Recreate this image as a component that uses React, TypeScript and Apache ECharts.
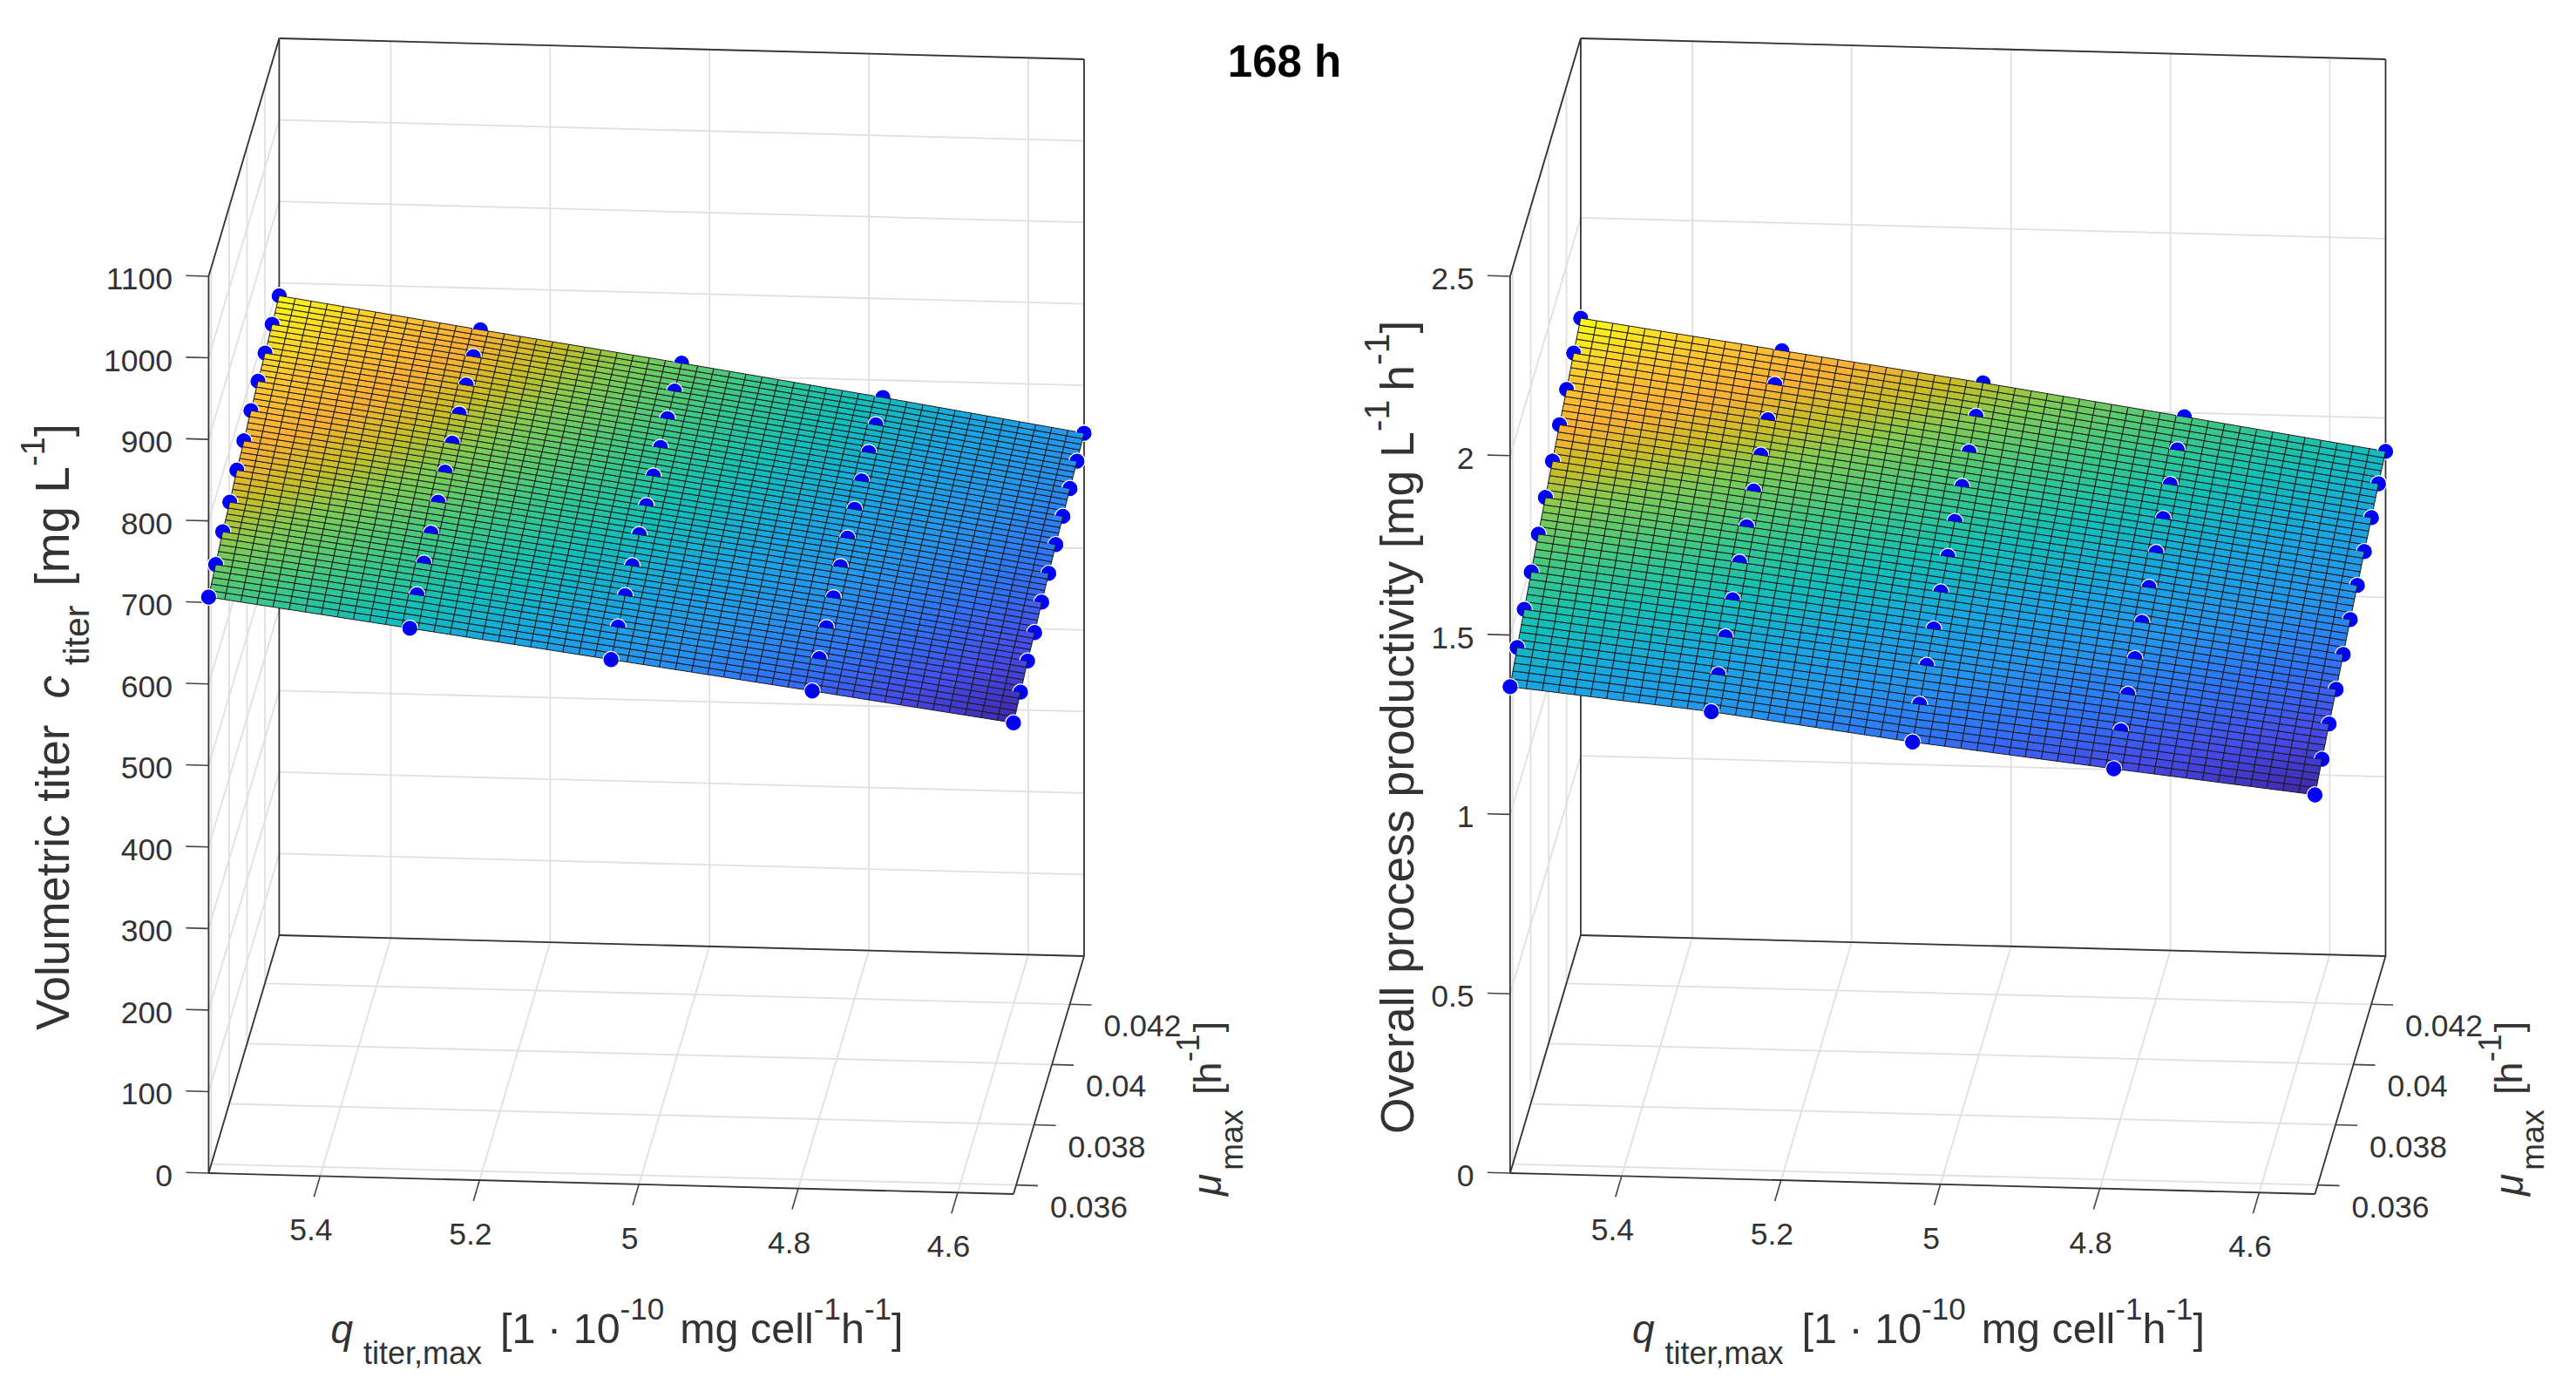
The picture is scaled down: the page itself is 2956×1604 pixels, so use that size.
import React, { useEffect, useRef } from "react";
import * as echarts from "echarts";

// ---------- data ----------
const Q_VALUES = [5.54, 5.2875, 5.035, 4.7825, 4.53];
const MU_VALUES = [0.0357, 0.03649, 0.03728, 0.03807, 0.03886, 0.03965, 0.04044, 0.04123, 0.04202, 0.04281, 0.0436];
// one row per q value, one column per mu value
const TITER_VALUES = [
  [706.6, 717.3, 728.4, 735.5, 745.6, 752.3, 760.2, 767.1, 772.4, 778.5, 784.3],
  [674.8, 686.7, 696.3, 703.8, 712.8, 720.3, 726.8, 733.2, 739.6, 745.4, 749.0],
  [642.8, 653.5, 662.9, 670.3, 679.3, 685.7, 692.9, 698.7, 704.8, 709.4, 714.4],
  [610.7, 621.1, 630.0, 637.5, 646.5, 652.3, 658.4, 664.0, 669.8, 674.5, 678.8],
  [578.0, 586.5, 595.5, 601.2, 609.4, 615.5, 621.6, 627.0, 632.0, 636.3, 641.4],
];
const PRODUCTIVITY_VALUES = [
  [1.356, 1.399, 1.439, 1.477, 1.516, 1.552, 1.587, 1.622, 1.654, 1.689, 1.72],
  [1.301, 1.338, 1.377, 1.414, 1.452, 1.485, 1.518, 1.552, 1.584, 1.616, 1.644],
  [1.231, 1.27, 1.312, 1.347, 1.384, 1.417, 1.448, 1.479, 1.509, 1.542, 1.569],
  [1.171, 1.211, 1.246, 1.279, 1.314, 1.345, 1.376, 1.404, 1.433, 1.463, 1.489],
  [1.113, 1.146, 1.178, 1.208, 1.239, 1.27, 1.299, 1.327, 1.355, 1.383, 1.407],
];
const Q_TICKS = [5.4, 5.2, 5, 4.8, 4.6];
const Q_TICK_LABELS = ["5.4", "5.2", "5", "4.8", "4.6"];
const MU_TICKS = [0.036, 0.038, 0.04, 0.042];
const MU_TICK_LABELS = ["0.036", "0.038", "0.04", "0.042"];
const TITER_TICKS = [0, 100, 200, 300, 400, 500, 600, 700, 800, 900, 1000, 1100];
const TITER_TICK_LABELS = ["0", "100", "200", "300", "400", "500", "600", "700", "800", "900", "1000", "1100"];
const PROD_TICKS = [0, 0.5, 1, 1.5, 2, 2.5];
const PROD_TICK_LABELS = ["0", "0.5", "1", "1.5", "2", "2.5"];
const TITLE_TEXT = "168 h";

// ---------- styling / view ----------
const FONT = '"Liberation Sans", Arial, sans-serif';
const TEXT = "#333333";
const MESH_CELLS = 50;
const PARULA: [number, number, number, number][] = [
  [0, 62, 38, 168], [0.1, 70, 75, 235], [0.2, 48, 115, 250], [0.3, 38, 148, 237],
  [0.4, 25, 165, 225], [0.5, 18, 190, 185], [0.6, 61, 199, 135], [0.7, 128, 203, 84],
  [0.76, 199, 190, 40], [0.83, 250, 175, 55], [0.9, 253, 195, 50], [1, 249, 251, 21],
];
function parula(t: number) {
  const v = Math.max(0, Math.min(1, t));
  for (let i = 1; i < PARULA.length; i++) {
    if (v <= PARULA[i][0]) {
      const a = PARULA[i - 1], b = PARULA[i];
      const f = (v - a[0]) / (b[0] - a[0]);
      return `rgb(${Math.round(a[1] + (b[1] - a[1]) * f)},${Math.round(a[2] + (b[2] - a[2]) * f)},${Math.round(a[3] + (b[3] - a[3]) * f)})`;
    }
  }
  return "rgb(249,251,21)";
}

const ORIGIN = { x: 239.4, y: 1346 };
const V_Q = { x: 923.6, y: 24 };
const V_MU = { x: 81, y: -273 };
const V_Z = -1029;
const qL = Q_VALUES[0], qR = Q_VALUES[Q_VALUES.length - 1];
const mu0 = MU_VALUES[0], mu1 = MU_VALUES[MU_VALUES.length - 1];

function makeProject(dx: number, zMax: number) {
  return (q: number, mu: number, z: number): [number, number] => {
    const u = (qL - q) / (qL - qR);
    const v = (mu - mu0) / (mu1 - mu0);
    return [
      ORIGIN.x + dx + u * V_Q.x + v * V_MU.x,
      ORIGIN.y + u * V_Q.y + v * V_MU.y + (z / zMax) * V_Z,
    ];
  };
}

function surfaceAt(table: number[][], a: number, b: number) {
  const ca = a * (table.length - 1), cb = b * (table[0].length - 1);
  const i = Math.min(Math.floor(ca), table.length - 2), j = Math.min(Math.floor(cb), table[0].length - 2);
  const fa = ca - i, fb = cb - j;
  return (table[i][j] * (1 - fb) + table[i][j + 1] * fb) * (1 - fa) + (table[i + 1][j] * (1 - fb) + table[i + 1][j + 1] * fb) * fa;
}

function segSeries(segs: number[][], color: string, width: number, z: number) {
  return {
    type: "custom", coordinateSystem: "cartesian2d", silent: true, z, clip: false,
    data: segs,
    renderItem: (p: any, api: any) => {
      const s = segs[p.dataIndex];
      const a = api.coord([s[0], s[1]]), b = api.coord([s[2], s[3]]);
      return { type: "line", shape: { x1: a[0], y1: a[1], x2: b[0], y2: b[1] }, style: { stroke: color, lineWidth: width, fill: null } };
    },
  };
}

function labelSeries(items: { x: number; y: number; t: string; align: string }[], z: number) {
  return {
    type: "custom", coordinateSystem: "cartesian2d", silent: true, z, clip: false,
    data: items.map((d) => [d.x, d.y]),
    renderItem: (p: any, api: any) => {
      const d = items[p.dataIndex];
      const c = api.coord([d.x, d.y]);
      return { type: "text", x: c[0], y: c[1], style: { text: d.t, fill: TEXT, font: `35.5px ${FONT}`, align: d.align, verticalAlign: "middle" } };
    },
  };
}

function plotSeries(dx: number, table: number[][], zTicks: number[], zLabels: string[], zMax: number) {
  const P = makeProject(dx, zMax);
  const series: any[] = [];
  // walls
  const grid: number[][] = [];
  const seg = (a: [number, number], b: [number, number]) => grid.push([a[0], a[1], b[0], b[1]]);
  Q_TICKS.forEach((q) => {
    seg(P(q, mu1, 0), P(q, mu1, zMax));
    seg(P(q, mu0, 0), P(q, mu1, 0));
  });
  MU_TICKS.forEach((m) => {
    seg(P(qL, m, 0), P(qL, m, zMax));
    seg(P(qL, m, 0), P(qR, m, 0));
  });
  zTicks.forEach((z) => {
    seg(P(qL, mu1, z), P(qR, mu1, z));
    seg(P(qL, mu0, z), P(qL, mu1, z));
  });
  series.push(segSeries(grid, "#e0e0e0", 1.8, 1));
  // box
  const box: number[][] = [];
  const bseg = (a: [number, number], b: [number, number]) => box.push([a[0], a[1], b[0], b[1]]);
  bseg(P(qL, mu1, zMax), P(qR, mu1, zMax));
  bseg(P(qL, mu1, zMax), P(qL, mu0, zMax));
  bseg(P(qL, mu0, 0), P(qL, mu0, zMax));
  bseg(P(qL, mu1, 0), P(qL, mu1, zMax));
  bseg(P(qR, mu1, 0), P(qR, mu1, zMax));
  bseg(P(qL, mu1, 0), P(qR, mu1, 0));
  bseg(P(qL, mu1, 0), P(qL, mu0, 0));
  bseg(P(qL, mu0, 0), P(qR, mu0, 0));
  bseg(P(qR, mu0, 0), P(qR, mu1, 0));
  series.push(segSeries(box, "#333333", 1.8, 2));
  // ticks
  const ticks: number[][] = [];
  const labels: { x: number; y: number; t: string; align: string }[] = [];
  Q_TICKS.forEach((q, i) => {
    const b = P(q, mu0, 0);
    ticks.push([b[0], b[1], b[0] - 7.1, b[1] + 24]);
    labels.push({ x: b[0] - 10.5, y: b[1] + 62, t: Q_TICK_LABELS[i], align: "center" });
  });
  MU_TICKS.forEach((m, i) => {
    const b = P(qR, m, 0);
    ticks.push([b[0], b[1], b[0] + 25, b[1] + 0.7]);
    labels.push({ x: b[0] + 39, y: b[1] + 25, t: MU_TICK_LABELS[i], align: "left" });
  });
  zTicks.forEach((z, i) => {
    const b = P(qL, mu0, z);
    ticks.push([b[0], b[1], b[0] - 26, b[1] - 0.7]);
    labels.push({ x: dx + 198, y: b[1] + 3, t: zLabels[i], align: "right" });
  });
  series.push(segSeries(ticks, "#444444", 1.6, 2));
  series.push(labelSeries(labels, 7));

  // markers, full discs beneath the surface
  const markers: { p: [number, number] }[] = [];
  Q_VALUES.forEach((q, i) => MU_VALUES.forEach((m, j) => markers.push({ p: P(q, m, table[i][j]) })));
  series.push({
    type: "scatter", coordinateSystem: "cartesian2d", silent: true, z: 3, symbol: "circle", symbolSize: 18.5,
    itemStyle: { color: "#0000ff", borderColor: "#ffffff", borderWidth: 1.2, opacity: 1 },
    data: markers.map((d) => d.p),
  });

  // surface
  let zMin = Infinity, zTop = -Infinity;
  table.forEach((r) => r.forEach((v) => { zMin = Math.min(zMin, v); zTop = Math.max(zTop, v); }));
  const cells: { pts: [number, number][]; t: number }[] = [];
  const node = (ia: number, ib: number) => {
    const a = ia / MESH_CELLS, b = ib / MESH_CELLS;
    const v = surfaceAt(table, a, b);
    return { p: P(qL + (qR - qL) * a, mu0 + (mu1 - mu0) * b, v), v };
  };
  for (let ia = 0; ia < MESH_CELLS; ia++) {
    for (let ib = 0; ib < MESH_CELLS; ib++) {
      const n = [node(ia, ib), node(ia + 1, ib), node(ia + 1, ib + 1), node(ia, ib + 1)];
      const avg = (n[0].v + n[1].v + n[2].v + n[3].v) / 4;
      cells.push({ pts: n.map((k) => k.p), t: (avg - zMin) / (zTop - zMin) });
    }
  }
  series.push({
    type: "custom", coordinateSystem: "cartesian2d", silent: true, z: 4, clip: false,
    data: cells.map((c) => c.pts[0]),
    renderItem: (p: any, api: any) => {
      const c = cells[p.dataIndex];
      return {
        type: "polygon",
        shape: { points: c.pts.map((q) => api.coord(q)) },
        style: { fill: parula(c.t), stroke: "#1a1a1a", lineWidth: 1 },
      };
    },
  });

  // upper half of each marker stays in front of the surface
  const tilt = 0.1;
  series.push({
    type: "custom", coordinateSystem: "cartesian2d", silent: true, z: 5, clip: false,
    data: markers.map((d) => d.p),
    renderItem: (p: any, api: any) => {
      const c = api.coord(markers[p.dataIndex].p);
      return {
        type: "group",
        children: [
          { type: "sector", shape: { cx: c[0], cy: c[1], r: 8.8, r0: 0, startAngle: Math.PI + tilt, endAngle: 2 * Math.PI + tilt, clockwise: true }, style: { fill: "#0000ff" } },
          { type: "arc", shape: { cx: c[0], cy: c[1], r: 9.2, startAngle: Math.PI + tilt, endAngle: 2 * Math.PI + tilt, clockwise: true }, style: { stroke: "#ffffff", lineWidth: 1.2, fill: null } },
        ],
      };
    },
  });
  return series;
}

// ---------- rich axis titles, laid out piece by piece ----------
type Piece = { t: string; fs: number; dy?: number; italic?: boolean; gap?: number };
let measureCtx: CanvasRenderingContext2D | null = null;
function flow(x: number, y: number, rotation: number, pieces: Piece[]) {
  if (!measureCtx) measureCtx = document.createElement("canvas").getContext("2d");
  let cx = 0;
  const children = pieces.map((p) => {
    const font = `${p.italic ? "italic " : ""}${p.fs}px ${FONT}`;
    measureCtx!.font = font;
    const el = {
      type: "text", x: cx, y: (p.dy || 0) - 0.3465 * p.fs,
      style: { text: p.t, font, fill: TEXT, align: "left", verticalAlign: "middle" },
    };
    cx += measureCtx!.measureText(p.t).width + (p.gap || 0);
    return el;
  });
  return { type: "group", x, y, rotation, silent: true, children };
}

function qTitle(dx: number) {
  return flow(379.5 + dx, 1541, 0, [
    { t: "q", fs: 46, italic: true, gap: 12 },
    { t: "titer,max", fs: 36, dy: 24, gap: 21 },
    { t: "[1 · 10", fs: 48.5 },
    { t: "-10", fs: 35, dy: -27, gap: 18 },
    { t: "mg cell", fs: 48.5 },
    { t: "-1", fs: 35, dy: -27 },
    { t: "h", fs: 48.5 },
    { t: "-1", fs: 35, dy: -27 },
    { t: "]", fs: 48.5 },
  ]);
}
function muTitle(dx: number) {
  return flow(1401 + dx, 1372, Math.PI / 2, [
    { t: "μ", fs: 46, italic: true, gap: 4 },
    { t: "max", fs: 37, dy: 25, gap: 17 },
    { t: "[h", fs: 45 },
    { t: "-1", fs: 36, dy: -25, gap: 2 },
    { t: "]", fs: 45 },
  ]);
}

export default function App() {
  const ref = useRef<HTMLDivElement>(null);
  useEffect(() => {
    const chart = echarts.init(ref.current!, undefined, { renderer: "svg" });
    const RIGHT_DX = 1493.5;
    chart.setOption({
      animation: false,
      backgroundColor: "#ffffff",
      grid: { left: 0, right: 0, top: 0, bottom: 0, containLabel: false },
      xAxis: { type: "value", min: 0, max: 2956, show: false },
      yAxis: { type: "value", min: 0, max: 1604, inverse: true, show: false },
      series: [
        ...plotSeries(0, TITER_VALUES, TITER_TICKS, TITER_TICK_LABELS, 1100),
        ...plotSeries(RIGHT_DX, PRODUCTIVITY_VALUES, PROD_TICKS, PROD_TICK_LABELS, 2.5),
      ],
      graphic: [
        { type: "text", x: 1474, y: 70, silent: true, style: { text: TITLE_TEXT, font: `bold 51px ${FONT}`, fill: "#000000", align: "center", verticalAlign: "middle" } },
        flow(79, 1182, Math.PI / 2, [
          { t: "Volumetric titer", fs: 53, gap: 30 },
          { t: "c", fs: 53, italic: true, gap: 12 },
          { t: "titer", fs: 41, dy: 23, gap: 22 },
          { t: "[mg L", fs: 55 },
          { t: "-1", fs: 38, dy: -28 },
          { t: "]", fs: 55 },
        ]),
        flow(1622, 1301, Math.PI / 2, [
          { t: "Overall process productivity [mg L", fs: 53.5 },
          { t: "-1", fs: 41, dy: -28, gap: 10 },
          { t: "h", fs: 53.5 },
          { t: "-1", fs: 41, dy: -28 },
          { t: "]", fs: 53.5 },
        ]),
        qTitle(0),
        qTitle(RIGHT_DX),
        muTitle(0),
        muTitle(RIGHT_DX),
      ],
    });
    return () => chart.dispose();
  }, []);
  return <div ref={ref} style={{ position: "fixed", left: 0, top: 0, width: 2956, height: 1604 }} />;
}
